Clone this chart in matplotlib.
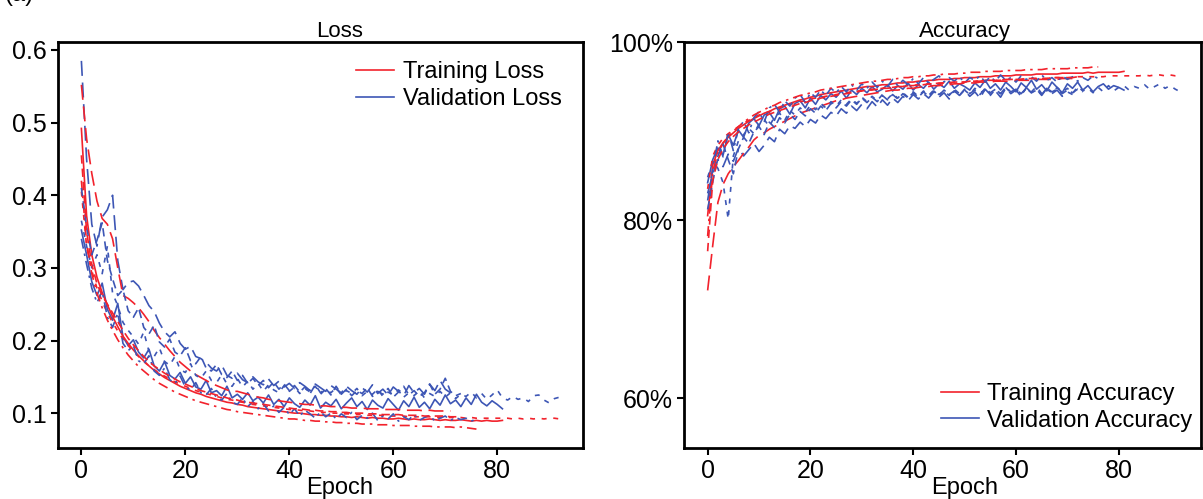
import matplotlib
matplotlib.use("Agg")
import matplotlib.pyplot as plt
from matplotlib.lines import Line2D
from matplotlib.ticker import FuncFormatter

plt.rcParams['font.family'] = ['Liberation Sans', 'DejaVu Sans']

RED = '#f2222c'
BLUE = '#3d56b5'

# ---------------- data (5 folds) ----------------
fold_styles = ['-', (0, (9, 4)), (0, (3, 4)), (0, (6, 3, 1.5, 3)), (0, (5, 3))]

# Fold 1 (82 epochs)
train_loss_1 = [0.492, 0.372, 0.318, 0.287, 0.266, 0.249, 0.233, 0.219, 0.206, 0.196,
                0.187, 0.179, 0.172, 0.165, 0.159, 0.154, 0.149, 0.145, 0.141, 0.137,
                0.134, 0.131, 0.128, 0.126, 0.123, 0.121, 0.119, 0.117, 0.115, 0.114,
                0.112, 0.111, 0.109, 0.108, 0.107, 0.106, 0.105, 0.104, 0.103, 0.102,
                0.101, 0.100, 0.100, 0.099, 0.098, 0.098, 0.097, 0.097, 0.096, 0.096,
                0.095, 0.095, 0.094, 0.095, 0.094, 0.093, 0.094, 0.093, 0.093, 0.092,
                0.092, 0.093, 0.092, 0.091, 0.092, 0.091, 0.091, 0.092, 0.091, 0.090,
                0.091, 0.090, 0.090, 0.091, 0.090, 0.089, 0.090, 0.089, 0.090, 0.089, 0.089, 0.090]
val_loss_1 = [0.352, 0.318, 0.281, 0.262, 0.279, 0.243, 0.228, 0.251, 0.205, 0.193,
              0.201, 0.184, 0.176, 0.188, 0.165, 0.158, 0.171, 0.152, 0.147, 0.156,
              0.141, 0.150, 0.136, 0.133, 0.145, 0.128, 0.131, 0.124, 0.137, 0.121,
              0.126, 0.119, 0.128, 0.117, 0.122, 0.114, 0.125, 0.112, 0.119, 0.109,
              0.121, 0.113, 0.108, 0.118, 0.111, 0.124, 0.107, 0.115, 0.110, 0.119,
              0.106, 0.114, 0.121, 0.109, 0.116, 0.105, 0.118, 0.111, 0.107, 0.120,
              0.112, 0.104, 0.117, 0.109, 0.122, 0.108, 0.115, 0.106, 0.119, 0.111,
              0.125, 0.113, 0.118, 0.109, 0.121, 0.112, 0.126, 0.115, 0.110, 0.117, 0.112, 0.106]
train_acc_1 = [0.805, 0.862, 0.878, 0.887, 0.893, 0.898, 0.903, 0.907, 0.911, 0.914,
               0.917, 0.920, 0.922, 0.925, 0.927, 0.929, 0.931, 0.933, 0.935, 0.936,
               0.938, 0.939, 0.941, 0.942, 0.943, 0.944, 0.945, 0.946, 0.947, 0.948,
               0.949, 0.950, 0.950, 0.951, 0.952, 0.952, 0.953, 0.954, 0.954, 0.955,
               0.955, 0.956, 0.956, 0.957, 0.957, 0.958, 0.958, 0.958, 0.959, 0.959,
               0.960, 0.960, 0.960, 0.961, 0.961, 0.961, 0.962, 0.962, 0.962, 0.962,
               0.963, 0.963, 0.963, 0.963, 0.964, 0.964, 0.964, 0.964, 0.964, 0.965,
               0.965, 0.965, 0.965, 0.965, 0.966, 0.965, 0.966, 0.966, 0.966, 0.966, 0.966, 0.967]
val_acc_1 = [0.842, 0.868, 0.881, 0.873, 0.896, 0.884, 0.901, 0.893, 0.909, 0.914,
             0.906, 0.918, 0.921, 0.912, 0.925, 0.928, 0.919, 0.931, 0.934, 0.926,
             0.937, 0.930, 0.940, 0.935, 0.942, 0.938, 0.945, 0.937, 0.946, 0.941,
             0.948, 0.943, 0.950, 0.944, 0.947, 0.952, 0.945, 0.951, 0.947, 0.954,
             0.946, 0.952, 0.948, 0.955, 0.947, 0.953, 0.949, 0.956, 0.948, 0.953,
             0.950, 0.946, 0.954, 0.949, 0.957, 0.948, 0.953, 0.946, 0.955, 0.950,
             0.944, 0.954, 0.949, 0.957, 0.947, 0.952, 0.945, 0.955, 0.949, 0.943,
             0.953, 0.948, 0.955, 0.946, 0.951, 0.944, 0.950, 0.953, 0.947, 0.951, 0.949, 0.946]

# Fold 2 (72 epochs)
train_loss_2 = [0.552, 0.478, 0.430, 0.392, 0.368, 0.360, 0.340, 0.300, 0.262, 0.258,
                0.252, 0.245, 0.236, 0.226, 0.214, 0.204, 0.195, 0.186, 0.178, 0.170,
                0.164, 0.158, 0.153, 0.149, 0.145, 0.141, 0.138, 0.135, 0.132, 0.130,
                0.130, 0.128, 0.126, 0.124, 0.122, 0.121, 0.119, 0.118, 0.117, 0.116,
                0.115, 0.114, 0.113, 0.112, 0.112, 0.111, 0.110, 0.110, 0.109, 0.109,
                0.108, 0.108, 0.107, 0.107, 0.107, 0.106, 0.106, 0.106, 0.105, 0.105,
                0.105, 0.105, 0.104, 0.104, 0.104, 0.104, 0.103, 0.104, 0.103, 0.103, 0.103, 0.103]
val_loss_2 = [0.585, 0.450, 0.360, 0.330, 0.370, 0.380, 0.400, 0.310, 0.270, 0.280,
              0.282, 0.275, 0.262, 0.248, 0.240, 0.224, 0.212, 0.205, 0.212, 0.196,
              0.188, 0.192, 0.178, 0.175, 0.170, 0.162, 0.158, 0.166, 0.152, 0.148,
              0.155, 0.146, 0.142, 0.150, 0.143, 0.139, 0.147, 0.138, 0.144, 0.136,
              0.141, 0.134, 0.142, 0.137, 0.131, 0.140, 0.135, 0.130, 0.138, 0.133,
              0.128, 0.137, 0.131, 0.126, 0.135, 0.129, 0.139, 0.127, 0.133, 0.125,
              0.136, 0.130, 0.124, 0.138, 0.128, 0.134, 0.126, 0.140, 0.131, 0.145, 0.133, 0.128]
train_acc_2 = [0.721, 0.772, 0.820, 0.840, 0.852, 0.860, 0.867, 0.875, 0.882, 0.890,
               0.895, 0.898, 0.902, 0.905, 0.908, 0.911, 0.914, 0.917, 0.920, 0.922,
               0.924, 0.926, 0.928, 0.930, 0.932, 0.934, 0.935, 0.937, 0.938, 0.939,
               0.940, 0.941, 0.942, 0.943, 0.944, 0.945, 0.946, 0.946, 0.947, 0.948,
               0.948, 0.949, 0.950, 0.950, 0.951, 0.951, 0.952, 0.952, 0.953, 0.953,
               0.954, 0.954, 0.954, 0.955, 0.955, 0.955, 0.956, 0.956, 0.956, 0.956,
               0.957, 0.957, 0.957, 0.957, 0.958, 0.958, 0.958, 0.958, 0.958, 0.959, 0.959, 0.959]
val_acc_2 = [0.830, 0.852, 0.868, 0.860, 0.874, 0.866, 0.881, 0.872, 0.879, 0.886,
             0.877, 0.884, 0.893, 0.888, 0.902, 0.897, 0.906, 0.903, 0.910, 0.905,
             0.913, 0.909, 0.918, 0.914, 0.921, 0.917, 0.925, 0.920, 0.928, 0.923,
             0.930, 0.925, 0.933, 0.927, 0.935, 0.929, 0.937, 0.932, 0.939, 0.934,
             0.941, 0.936, 0.942, 0.937, 0.944, 0.938, 0.943, 0.936, 0.945, 0.940,
             0.946, 0.939, 0.944, 0.937, 0.947, 0.941, 0.945, 0.938, 0.948, 0.942,
             0.946, 0.939, 0.949, 0.943, 0.947, 0.940, 0.948, 0.942, 0.946, 0.939, 0.944, 0.941]

# Fold 3 (93 epochs)
train_loss_3 = [0.405, 0.330, 0.296, 0.272, 0.254, 0.238, 0.225, 0.213, 0.202, 0.193,
                0.185, 0.178, 0.171, 0.165, 0.160, 0.155, 0.151, 0.147, 0.143, 0.140,
                0.137, 0.134, 0.131, 0.129, 0.127, 0.125, 0.123, 0.121, 0.119, 0.118,
                0.116, 0.115, 0.113, 0.112, 0.111, 0.110, 0.109, 0.108, 0.107, 0.106,
                0.105, 0.105, 0.104, 0.103, 0.103, 0.102, 0.101, 0.101, 0.100, 0.100,
                0.099, 0.099, 0.099, 0.098, 0.098, 0.097, 0.097, 0.097, 0.097, 0.096,
                0.096, 0.096, 0.096, 0.095, 0.095, 0.095, 0.095, 0.095, 0.094, 0.094,
                0.094, 0.094, 0.094, 0.094, 0.093, 0.094, 0.093, 0.093, 0.093, 0.093,
                0.093, 0.093, 0.093, 0.092, 0.093, 0.092, 0.093, 0.092, 0.093, 0.092, 0.093, 0.093, 0.092]
val_loss_3 = [0.365, 0.330, 0.300, 0.318, 0.292, 0.330, 0.265, 0.248, 0.225, 0.214,
              0.205, 0.195, 0.212, 0.185, 0.178, 0.190, 0.171, 0.166, 0.178, 0.160,
              0.156, 0.168, 0.152, 0.148, 0.158, 0.145, 0.142, 0.153, 0.140, 0.137,
              0.148, 0.136, 0.144, 0.133, 0.141, 0.130, 0.139, 0.132, 0.128, 0.138,
              0.130, 0.136, 0.127, 0.134, 0.129, 0.137, 0.126, 0.133, 0.128, 0.135,
              0.125, 0.131, 0.127, 0.134, 0.124, 0.130, 0.126, 0.133, 0.123, 0.129,
              0.125, 0.132, 0.122, 0.128, 0.124, 0.131, 0.121, 0.127, 0.123, 0.130,
              0.122, 0.128, 0.120, 0.126, 0.123, 0.129, 0.121, 0.127, 0.119, 0.125,
              0.132, 0.121, 0.118, 0.123, 0.119, 0.121, 0.116, 0.124, 0.125, 0.118, 0.114, 0.120, 0.122]
train_acc_3 = [0.835, 0.872, 0.884, 0.892, 0.897, 0.901, 0.905, 0.909, 0.912, 0.915,
               0.918, 0.920, 0.922, 0.924, 0.926, 0.928, 0.930, 0.931, 0.933, 0.934,
               0.936, 0.937, 0.938, 0.939, 0.940, 0.941, 0.942, 0.943, 0.944, 0.945,
               0.945, 0.946, 0.947, 0.947, 0.948, 0.949, 0.949, 0.950, 0.950, 0.951,
               0.951, 0.952, 0.952, 0.953, 0.953, 0.953, 0.954, 0.954, 0.955, 0.955,
               0.955, 0.956, 0.956, 0.956, 0.957, 0.957, 0.957, 0.957, 0.958, 0.958,
               0.958, 0.958, 0.959, 0.959, 0.959, 0.959, 0.959, 0.960, 0.960, 0.960,
               0.960, 0.960, 0.961, 0.961, 0.961, 0.961, 0.961, 0.961, 0.962, 0.962,
               0.962, 0.962, 0.962, 0.962, 0.962, 0.963, 0.962, 0.963, 0.963, 0.962, 0.963, 0.962, 0.962]
val_acc_3 = [0.848, 0.866, 0.858, 0.842, 0.801, 0.872, 0.889, 0.896, 0.903, 0.897,
             0.908, 0.913, 0.905, 0.916, 0.920, 0.912, 0.923, 0.918, 0.926, 0.921,
             0.929, 0.924, 0.931, 0.926, 0.933, 0.928, 0.935, 0.930, 0.936, 0.931,
             0.938, 0.933, 0.939, 0.934, 0.941, 0.936, 0.942, 0.937, 0.943, 0.938,
             0.944, 0.939, 0.945, 0.940, 0.946, 0.941, 0.945, 0.940, 0.947, 0.942,
             0.946, 0.941, 0.948, 0.943, 0.946, 0.940, 0.947, 0.942, 0.949, 0.943,
             0.947, 0.941, 0.948, 0.944, 0.950, 0.942, 0.947, 0.943, 0.949, 0.944,
             0.948, 0.942, 0.950, 0.945, 0.948, 0.943, 0.949, 0.944, 0.951, 0.945,
             0.949, 0.951, 0.946, 0.950, 0.948, 0.952, 0.947, 0.950, 0.953, 0.948, 0.951, 0.947, 0.944]

# Fold 4 (77 epochs)
train_loss_4 = [0.420, 0.335, 0.292, 0.265, 0.245, 0.228, 0.214, 0.201, 0.190, 0.180,
                0.172, 0.164, 0.158, 0.152, 0.146, 0.141, 0.137, 0.133, 0.129, 0.126,
                0.123, 0.120, 0.117, 0.115, 0.113, 0.111, 0.109, 0.107, 0.105, 0.104,
                0.102, 0.101, 0.100, 0.099, 0.098, 0.097, 0.096, 0.095, 0.094, 0.093,
                0.092, 0.092, 0.091, 0.090, 0.090, 0.089, 0.089, 0.088, 0.088, 0.087,
                0.087, 0.086, 0.086, 0.086, 0.085, 0.085, 0.085, 0.084, 0.084, 0.084,
                0.083, 0.083, 0.083, 0.083, 0.082, 0.082, 0.082, 0.082, 0.081, 0.081,
                0.081, 0.081, 0.080, 0.081, 0.080, 0.079, 0.078]
val_loss_4 = [0.340, 0.305, 0.272, 0.252, 0.268, 0.232, 0.218, 0.238, 0.196, 0.186,
              0.193, 0.172, 0.168, 0.179, 0.158, 0.152, 0.162, 0.146, 0.141, 0.151,
              0.136, 0.132, 0.142, 0.128, 0.125, 0.134, 0.121, 0.118, 0.127, 0.115,
              0.112, 0.121, 0.109, 0.116, 0.106, 0.113, 0.103, 0.110, 0.101, 0.108,
              0.098, 0.106, 0.096, 0.104, 0.099, 0.093, 0.102, 0.095, 0.100, 0.092,
              0.099, 0.094, 0.101, 0.091, 0.097, 0.093, 0.100, 0.090, 0.096, 0.092,
              0.099, 0.089, 0.095, 0.091, 0.098, 0.090, 0.094, 0.097, 0.089, 0.093,
              0.096, 0.090, 0.094, 0.091, 0.093, 0.089, 0.092]
train_acc_4 = [0.782, 0.855, 0.875, 0.886, 0.894, 0.900, 0.905, 0.910, 0.914, 0.918,
               0.921, 0.924, 0.927, 0.929, 0.932, 0.934, 0.936, 0.938, 0.940, 0.941,
               0.943, 0.944, 0.946, 0.947, 0.948, 0.949, 0.950, 0.951, 0.952, 0.953,
               0.954, 0.955, 0.956, 0.956, 0.957, 0.958, 0.958, 0.959, 0.960, 0.960,
               0.961, 0.961, 0.962, 0.962, 0.963, 0.963, 0.964, 0.964, 0.964, 0.965,
               0.965, 0.966, 0.966, 0.966, 0.967, 0.967, 0.967, 0.967, 0.968, 0.968,
               0.968, 0.968, 0.969, 0.969, 0.969, 0.969, 0.970, 0.970, 0.970, 0.970,
               0.970, 0.971, 0.971, 0.971, 0.971, 0.972, 0.972]
val_acc_4 = [0.822, 0.858, 0.889, 0.871, 0.899, 0.878, 0.903, 0.911, 0.898, 0.915,
             0.922, 0.910, 0.926, 0.930, 0.921, 0.934, 0.928, 0.937, 0.941, 0.932,
             0.943, 0.938, 0.946, 0.940, 0.948, 0.943, 0.950, 0.944, 0.952, 0.946,
             0.953, 0.948, 0.955, 0.949, 0.956, 0.950, 0.958, 0.951, 0.957, 0.952,
             0.959, 0.953, 0.960, 0.954, 0.958, 0.962, 0.955, 0.960, 0.956, 0.961,
             0.954, 0.960, 0.957, 0.962, 0.955, 0.961, 0.956, 0.963, 0.957, 0.960,
             0.955, 0.962, 0.958, 0.961, 0.956, 0.963, 0.957, 0.960, 0.955, 0.962,
             0.958, 0.961, 0.956, 0.960, 0.957, 0.962, 0.959]

# Fold 5 (74 epochs)
train_loss_5 = [0.455, 0.350, 0.305, 0.278, 0.262, 0.250, 0.238, 0.226, 0.214, 0.203,
                0.194, 0.186, 0.178, 0.171, 0.165, 0.160, 0.155, 0.151, 0.147, 0.143,
                0.140, 0.137, 0.134, 0.131, 0.129, 0.127, 0.125, 0.123, 0.121, 0.119,
                0.118, 0.116, 0.115, 0.114, 0.113, 0.112, 0.111, 0.110, 0.109, 0.108,
                0.107, 0.106, 0.106, 0.105, 0.104, 0.104, 0.103, 0.103, 0.102, 0.102,
                0.101, 0.101, 0.100, 0.100, 0.100, 0.099, 0.099, 0.099, 0.098, 0.098,
                0.098, 0.098, 0.097, 0.097, 0.097, 0.097, 0.096, 0.096, 0.096, 0.096,
                0.096, 0.095, 0.095, 0.095]
val_loss_5 = [0.410, 0.356, 0.318, 0.338, 0.362, 0.310, 0.285, 0.262, 0.270, 0.241,
              0.232, 0.245, 0.218, 0.209, 0.221, 0.198, 0.191, 0.202, 0.184, 0.179,
              0.190, 0.172, 0.168, 0.178, 0.162, 0.158, 0.167, 0.153, 0.149, 0.158,
              0.145, 0.152, 0.141, 0.148, 0.138, 0.145, 0.135, 0.143, 0.133, 0.140,
              0.131, 0.138, 0.129, 0.136, 0.127, 0.139, 0.128, 0.134, 0.125, 0.137,
              0.126, 0.133, 0.124, 0.131, 0.127, 0.135, 0.123, 0.130, 0.126, 0.134,
              0.122, 0.129, 0.137, 0.125, 0.131, 0.123, 0.128, 0.140, 0.126, 0.133,
              0.148, 0.130, 0.124, 0.127]
train_acc_5 = [0.765, 0.845, 0.868, 0.880, 0.888, 0.894, 0.899, 0.903, 0.907, 0.910,
               0.913, 0.916, 0.919, 0.921, 0.923, 0.925, 0.927, 0.929, 0.931, 0.932,
               0.934, 0.935, 0.937, 0.938, 0.939, 0.940, 0.941, 0.942, 0.943, 0.944,
               0.945, 0.946, 0.946, 0.947, 0.948, 0.948, 0.949, 0.950, 0.950, 0.951,
               0.951, 0.952, 0.952, 0.953, 0.953, 0.954, 0.954, 0.954, 0.955, 0.955,
               0.955, 0.956, 0.956, 0.956, 0.957, 0.957, 0.957, 0.957, 0.958, 0.958,
               0.958, 0.958, 0.959, 0.959, 0.959, 0.959, 0.959, 0.960, 0.960, 0.960,
               0.960, 0.960, 0.961, 0.961]
val_acc_5 = [0.812, 0.843, 0.872, 0.885, 0.868, 0.852, 0.880, 0.893, 0.886, 0.899,
             0.905, 0.896, 0.910, 0.904, 0.915, 0.909, 0.919, 0.913, 0.922, 0.917,
             0.925, 0.920, 0.928, 0.923, 0.931, 0.926, 0.933, 0.928, 0.935, 0.930,
             0.937, 0.932, 0.938, 0.933, 0.940, 0.935, 0.941, 0.936, 0.942, 0.937,
             0.943, 0.938, 0.944, 0.939, 0.945, 0.940, 0.946, 0.941, 0.945, 0.940,
             0.947, 0.942, 0.946, 0.941, 0.948, 0.943, 0.947, 0.942, 0.949, 0.944,
             0.947, 0.942, 0.948, 0.943, 0.946, 0.941, 0.948, 0.944, 0.947, 0.942,
             0.946, 0.943, 0.947, 0.944]

train_losses = [train_loss_1, train_loss_2, train_loss_3, train_loss_4, train_loss_5]
val_losses = [val_loss_1, val_loss_2, val_loss_3, val_loss_4, val_loss_5]
train_accs = [train_acc_1, train_acc_2, train_acc_3, train_acc_4, train_acc_5]
val_accs = [val_acc_1, val_acc_2, val_acc_3, val_acc_4, val_acc_5]

x_ticks = [0, 20, 40, 60, 80]
loss_ticks = [0.1, 0.2, 0.3, 0.4, 0.5, 0.6]
acc_ticks = [0.6, 0.8, 1.0]

# ---------------- figure ----------------
W, H = 1203, 499
fig = plt.figure(figsize=(W / 100, H / 100), dpi=100)
ax1 = fig.add_axes([58 / W, 1 - 448 / H, (583 - 58) / W, (448 - 42) / H])
ax2 = fig.add_axes([684 / W, 1 - 448 / H, (1201 - 684) / W, (448 - 42) / H])

LW = 1.2
for ax, trs, vas in ((ax1, train_losses, val_losses), (ax2, train_accs, val_accs)):
    for tr, va, ls in zip(trs, vas, fold_styles):
        ax.plot(range(len(va)), va, color=BLUE, lw=LW, ls=ls)
        ax.plot(range(len(tr)), tr, color=RED, lw=LW, ls=ls)

for ax in (ax1, ax2):
    ax.set_xlim(-4.5, 96.5)
    ax.set_xticks(x_ticks)
    for s in ax.spines.values():
        s.set_linewidth(2.0)
    ax.tick_params(direction='out', length=5, width=1.5, labelsize=18, pad=3,
                   top=False, right=False)

ax1.set_ylim(0.052, 0.611)
ax1.set_yticks(loss_ticks)
ax1.yaxis.set_major_formatter(FuncFormatter(lambda v, p: f"{v:.1f}"))
ax2.set_ylim(0.544, 1.0)
ax2.set_yticks(acc_ticks)
ax2.yaxis.set_major_formatter(FuncFormatter(lambda v, p: f"{v * 100:.0f}%"))
ax2.set_xlim(-4.6, 96.0)

ax1.set_title('Loss', fontsize=16, x=0.537, pad=3)
ax2.set_title('Accuracy', fontsize=16, x=0.543, pad=3)
ax1.set_xlabel('Epoch', fontsize=17)
ax2.set_xlabel('Epoch', fontsize=17)
ax1.xaxis.set_label_coords(0.537, -0.071)
ax2.xaxis.set_label_coords(0.543, -0.071)

h_tr = Line2D([], [], color=RED, lw=LW)
h_va = Line2D([], [], color=BLUE, lw=LW)
ax1.legend([h_tr, h_va], ['Training Loss', 'Validation Loss'], loc='upper left',
           bbox_to_anchor=(0.568, 0.952), frameon=False, fontsize=17,
           borderaxespad=0, borderpad=0, handlelength=1.6, handletextpad=0.38,
           labelspacing=0.2)
ax2.legend([h_tr, h_va], ['Training Accuracy', 'Validation Accuracy'], loc='upper left',
           bbox_to_anchor=(0.497, 0.16), frameon=False, fontsize=17,
           borderaxespad=0, borderpad=0, handlelength=1.6, handletextpad=0.34,
           labelspacing=0.2)

fig.text(0.004, 1 - 1 / H, '(a)', fontsize=17, va='baseline', ha='left')

fig.savefig('out.png', dpi=100)
